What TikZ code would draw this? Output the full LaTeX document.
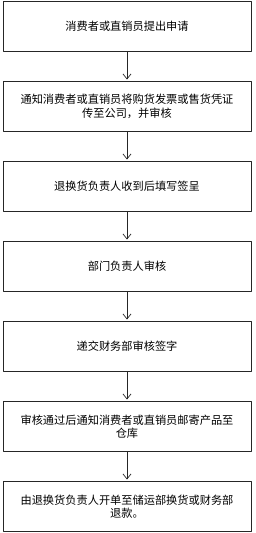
\documentclass[tikz,border=0pt]{standalone}
\usepackage{fontspec}
\setmainfont{Noto Sans CJK SC}
\usetikzlibrary{positioning,arrows.meta}

\begin{document}
\begin{tikzpicture}[x=1pt, y=1pt, line cap=round, line join=round,
    stepbox/.style={draw=black!85, line width=0.7pt, minimum width=248pt,
      minimum height=50pt, align=center, inner sep=2pt, outer sep=0pt,
      font=\fontsize{11.2}{13.5}\selectfont},
    flow/.style={draw=black!85, line width=0.7pt, shorten >=2pt,
      -{Straight Barb[length=5pt, width=8pt]}}]
  \useasboundingbox (0,0) rectangle (255,-533);

  % Steps from top to bottom
  \node[stepbox] (apply) at (127,-26.5) {消费者或直销员提出申请};
  \node[stepbox, below=30pt of apply] (notify) {通知消费者或直销员将购货发票或售货凭证\\传至公司，并审核};
  \node[stepbox, below=30pt of notify] (receive) {退换货负责人收到后填写签呈};
  \node[stepbox, below=30pt of receive] (dept) {部门负责人审核};
  \node[stepbox, below=30pt of dept] (finance) {递交财务部审核签字};
  \node[stepbox, below=30pt of finance] (ship) {审核通过后通知消费者或直销员邮寄产品至\\仓库};
  \node[stepbox, below=30pt of ship] (refund) {由退换货负责人开单至储运部换货或财务部\\退款。};

  % Connectors
  \foreach \a/\b in {apply/notify, notify/receive, receive/dept,
                     dept/finance, finance/ship, ship/refund}
    \draw[flow] (\a) -- (\b);
\end{tikzpicture}
\end{document}
